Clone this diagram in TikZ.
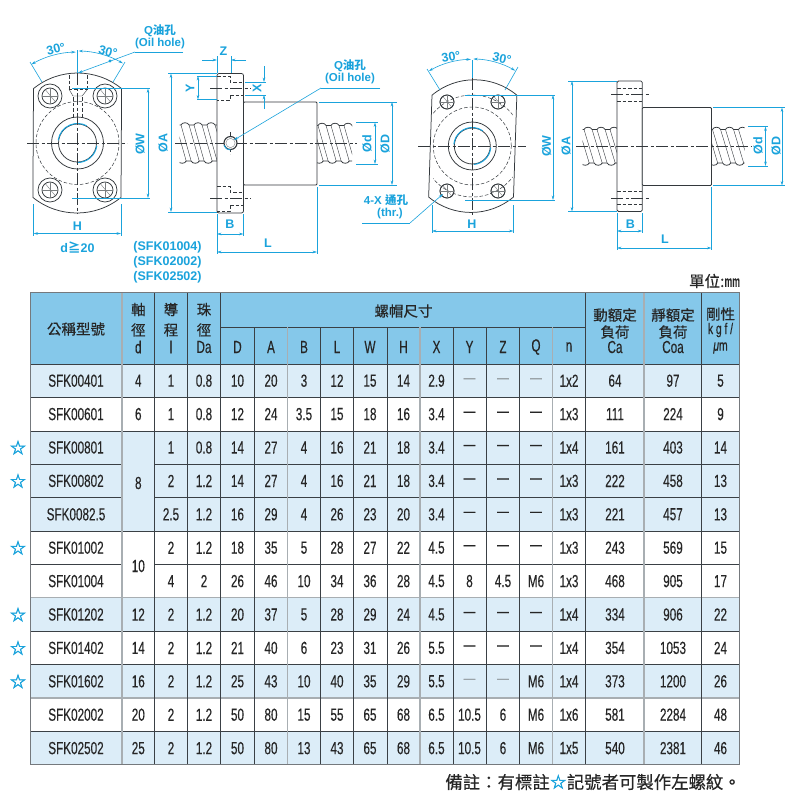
\documentclass[tikz,border=0pt]{standalone}
\usepackage{fontspec}
\usetikzlibrary{arrows.meta,calc}
\setmainfont{Liberation Sans}
\newfontfamily\cjk{Noto Sans CJK TC}
\newfontfamily\cjkm[FakeBold=0.35]{Noto Sans CJK TC}
\newfontfamily\tblf[FakeStretch=0.67,FakeBold=0.25]{Liberation Sans}
\newfontfamily\tblw[FakeStretch=0.67,FakeBold=0.25,LetterSpace=18]{Liberation Sans}
\newfontfamily\starf[FakeBold=2.5]{DejaVu Sans}
\newcommand\tfs{\fontsize{17.5}{19}\selectfont\tblf}
\newcommand\gdash{\textcolor{dashgray}{—}}
\definecolor{dimblue}{HTML}{1AA3DC}
\definecolor{headblue}{HTML}{85C8EA}
\definecolor{rowblue}{HTML}{DCEDF8}
\definecolor{gridgray}{HTML}{A8AEB2}
\definecolor{griddark}{HTML}{3A4045}
\definecolor{dashgray}{HTML}{9AA3A8}
\definecolor{ink}{HTML}{33383C}
\tikzset{
  outl/.style={draw=ink,line width=0.75pt},
  thinl/.style={draw=ink!65,line width=0.4pt},
  hid/.style={draw=ink,line width=0.5pt,dash pattern=on 3.5pt off 2pt},
  ctr/.style={draw=ink,line width=0.5pt,dash pattern=on 12pt off 2.5pt on 3pt off 2.5pt},
  dimn/.style={draw=dimblue,line width=0.6pt},
  dimar/.style={dimn,{Stealth[length=4.5pt,width=2.6pt]}-{Stealth[length=4.5pt,width=2.6pt]}},
  ldr/.style={dimn,-{Stealth[length=4.5pt,width=2.6pt]}},
  lab/.style={inner sep=0pt,text=dimblue,font=\fontsize{12.5}{14}\selectfont\bfseries},
  labc/.style={inner sep=0pt,text=dimblue,align=center,font=\fontsize{11.5}{13}\selectfont\bfseries},
  cell/.style={inner sep=0pt,text=black!85,font=\tfs},
  hcjk/.style={inner sep=0pt,text=black!85,font=\fontsize{14.5}{14.5}\selectfont\cjkm},
  gmaj/.style={draw=gridgray,line width=1.3pt},
  gmin/.style={draw=griddark,line width=0.6pt},
  starn/.style={inner sep=0pt,text=dimblue,font=\fontsize{19}{19}\selectfont\starf},
}
% bolt hole of the front views
\newcommand\fhole[4]{%
  \draw[outl] (#1,#2) circle[radius=#3pt];
  \draw[outl] (#1,#2) circle[radius=#4pt];
  \draw[thinl] ($(#1,#2)+(-#4,0)$) -- ($(#1,#2)+(#4,0)$);
  \draw[thinl] ($(#1,#2)+(0,-#4)$) -- ($(#1,#2)+(0,#4)$);
  \draw[thinl] ($(#1,#2)+(-0.55*#4,-0.75*#4)$) -- ($(#1,#2)+(0.65*#4,0.7*#4)$);
}
% screw: x0,x1,ytop,ybot,pitch
\newcommand\screw[5]{%
  \begin{scope}
    \clip (#1-0.5,#3-1) rectangle (#2+0.5,#4+1);
    \foreach \i in {-1,...,5}{
      \pgfmathsetmacro\xa{#1+\i*#5+1}
      \pgfmathsetmacro\xb{\xa+0.62*#5}
      \pgfmathsetmacro\xc{\xa+0.78*#5}
      \pgfmathsetmacro\xd{\xb+0.78*#5}
      \pgfmathsetmacro\yt{#3+3}
      \pgfmathsetmacro\yb{#4-3}
      \draw[outl] (\xa,\yt) .. controls (\xa+1,#3) and (\xb-1,#3) .. (\xb,\yt) -- (\xa+#5,\yt);
      \draw[outl] (\xc,\yb) .. controls (\xc+1,#4) and (\xd-1,#4) .. (\xd,\yb) -- (\xc+#5,\yb);
      \draw[thinl,draw=ink] (\xa,\yt) -- (\xc,\yb);
      \draw[thinl,draw=ink] (\xb,\yt) -- (\xd,\yb);
    }
  \end{scope}
}
% table row
\newcommand\tabrow[2]{%
  \foreach \t [count=\c] in {#2}{
    \ifx\t\empty\else
      \pgfmathsetmacro\xx{\colx[\c-1]}
      \pgfmathsetmacro\yy{364+33.4*(#1-0.5)}
      \node[cell] (c#1-\c) at (\xx,\yy) {\t};
    \fi
  }
}
\def\colx{{76,138.3,171,204,237.5,271,304,337,370,403.5,436.5,469.5,503,536,569,615,673,720.5}}
\begin{document}
\begin{tikzpicture}[x=1pt,y=-1pt]
\useasboundingbox (0,0) rectangle (800,807);
\fill[white] (0,0) rectangle (800,807);

%% ---------- LEFT FRONT VIEW
\draw[outl] (33.5,88.6) arc[start angle=129,end angle=51,radius=70pt]
  -- (121,197.4) arc[start angle=-51,end angle=-129,radius=70pt] -- cycle;
\draw[hid] (77.5,143) circle[radius=41.5pt];
\fhole{50}{96}{12}{8}\fhole{105}{96}{12}{8}\fhole{50}{190}{12}{8}\fhole{105}{190}{12}{8}
\draw[outl] (77.5,143) circle[radius=26pt];
\draw[outl] (77.5,143) circle[radius=19pt];
\draw[dimblue,line width=1pt] (77.5,143) ++(172:19.5pt) arc[start angle=172,end angle=62,radius=19.5pt];
\draw[dimblue,line width=1pt] (77.5,143) ++(-8:19.5pt) arc[start angle=-8,end angle=-92,radius=19.5pt];
\draw[hid] (69.5,75)--(69.5,90) (87,75)--(87,90);
\draw[hid] (68.5,89.5)--(88,89.5);
\draw[thinl,draw=ink] (69.5,90)--(73,96)--(82,96)--(87,90);
\draw[hid] (73,97)--(73,119) (82,97)--(82,119);
\draw[hid] (72,198)--(92,198);
\draw[ctr] (27,143)--(127,143);
\draw[ctr] (77.5,73)--(77.5,214);
%% dimensions
\draw[dimn] (77.5,50)--(77.5,73);
\draw[dimn] (30,62)--(42,82) (125,62)--(113,82);
\draw[dimar] (31.4,64.4) arc[start angle=120,end angle=91,radius=92pt];
\draw[dimar] (78.5,51) arc[start angle=89,end angle=60,radius=92pt];
\node[lab,rotate=15] (a30a) at (56,49) {30°};
\node[lab,rotate=-15] (a30b) at (108,51.5) {30°};
\draw[dimn] (72,88.5)--(150,88.5) (72,198)--(150,198);
\draw[dimar] (148,88.5)--(148,198);
\node[lab,rotate=90] (lw1) at (140,144) {ØW};
\draw[dimn] (33.5,204)--(33.5,236) (121,204)--(121,236);
\draw[dimar] (33.5,233.5)--(121,233.5);
\node[lab] (lh1) at (77.5,226) {H};
\node[lab] (ld20) at (77.5,247) {d{\cjk\bfseries ≧}20};
\node[labc] (lq1a) at (160,31) {Q{\cjk 油孔}};
\node[labc] (lq1b) at (160,43.5) {(Oil hole)};
\coordinate (q1e) at (183,52);\coordinate (q1k) at (135,52);\coordinate (q1t) at (78,73);
\draw[dimn] (q1e)--(q1k);
\draw[ldr] (q1k)--(q1t);
\fill[dimblue] (110,61) circle[radius=1.7pt];
\node[lab] (ls1) at (167.5,247) {(SFK01004)};
\node[lab] (ls2) at (167.5,262) {(SFK02002)};
\node[lab] (ls3) at (167.5,277) {(SFK02502)};

%% ---------- LEFT SIDE VIEW
\screw{180}{217}{122}{164}{13}
\screw{317}{351.5}{122.5}{164}{13}
\draw[outl,rounded corners=2pt,fill=white] (217,73.5) rectangle (243.5,213);
\draw[outl,rounded corners=1pt,fill=white] (243.5,102) rectangle (317,185);
\draw[hid] (217,76)--(230,76)--(230,82)--(243.5,82) (230,95)--(243.5,95) (230,95)--(230,100)--(217,100);
\draw[hid] (217,186)--(230,186)--(230,192)--(243.5,192) (230,205)--(243.5,205) (230,205)--(230,211)--(217,211);
\draw[ctr] (210,88)--(251,88);
\draw[ctr] (210,198)--(251,198);
\draw[ctr] (175,143)--(357,143);
\draw[hid] (230,132)--(230,154);
\draw[outl,line width=1.1pt,fill=white] (230.5,143) circle[radius=6.5pt];
\draw[thinl] (230.5,143) circle[radius=4.6pt];
\draw[dimblue,line width=0.9pt] (230.5,143) ++(200:7pt) arc[start angle=200,end angle=270,radius=7pt];
\node[labc] (lq2a) at (350,66) {Q{\cjk 油孔}};
\node[labc] (lq2b) at (350,78.5) {(Oil hole)};
\coordinate (q2e) at (380,88);\coordinate (q2k) at (321,88);\coordinate (q2t) at (234,140);
\draw[dimn] (q2e)--(q2k);
\draw[ldr] (q2k)--(q2t);
%% dims
\draw[dimn] (168,73.5)--(217,73.5) (168,212)--(217,212);
\draw[dimar] (171,73.5)--(171,212);
\node[lab,rotate=90] (la1) at (163,143) {ØA};
\draw[dimn] (217,56)--(217,73) (231,56)--(231,73);
\draw[ldr] (202,60)--(217,60);
\draw[ldr] (246,60)--(231,60);
\node[lab] (lz) at (223.5,51) {Z};
\draw[dimn] (197,76)--(217,76) (197,99.5)--(217,99.5);
\draw[dimar] (198,76)--(198,99.5);
\node[lab,rotate=90] (ly) at (190,88) {Y};
\draw[dimn] (245,82)--(266,82) (245,95)--(266,95);
\draw[ldr] (264,66)--(264,82);
\draw[ldr] (264,109)--(264,95);
\node[lab,rotate=90] (lx) at (257,88) {X};
\draw[dimn] (356,122.5)--(378,122.5) (356,164)--(378,164);
\draw[dimar] (375,122.5)--(375,164);
\node[lab,rotate=90] (ld1) at (367,144) {Ød};
\draw[dimn] (319,102)--(397,102) (319,185)--(397,185);
\draw[dimar] (392,102)--(392,185);
\node[lab,rotate=90] (lD1) at (385,144) {ØD};
\draw[dimn] (217,214)--(217,254) (243.5,214)--(243.5,236) (317,187)--(317,254);
\draw[dimar] (217,234)--(243.5,234);
\node[lab] (lb1) at (230,224) {B};
\draw[dimar] (217,252)--(317,252);
\node[lab] (ll1) at (268,243) {L};

%% ---------- RIGHT FRONT VIEW
\draw[outl] (432,95.2) arc[start angle=130,end angle=50,radius=66pt]
  -- (513.5,197) arc[start angle=-50,end angle=-130,radius=66pt] -- cycle;
\draw[hid] (472.3,146) circle[radius=39pt];
\begin{scope}
  \clip (433,80) rectangle (512.5,212);
  \draw[hid] (472.3,146) circle[radius=51pt];
\end{scope}
\fhole{447}{102}{7}{7}\fhole{498}{102}{7}{7}\fhole{447}{191}{7}{7}\fhole{498}{191}{7}{7}
\draw[outl] (472.3,146) circle[radius=24pt];
\draw[outl] (472.3,146) circle[radius=18pt];
\draw[dimblue,line width=1pt] (472.3,146) ++(175:18.5pt) arc[start angle=175,end angle=55,radius=18.5pt];
\draw[dimblue,line width=1pt] (472.3,146) ++(-5:18.5pt) arc[start angle=-5,end angle=-85,radius=18.5pt];
\draw[ctr] (418,146)--(526,146);
\draw[ctr] (472.3,78)--(472.3,215);
\draw[dimn] (472.3,60)--(472.3,78);
\draw[dimn] (427,69)--(440,90) (518,67)--(505,90);
\draw[dimar] (429,71) arc[start angle=120,end angle=91,radius=87pt];
\draw[dimar] (473.3,59) arc[start angle=89,end angle=60,radius=87pt];
\node[lab,rotate=10] (a30c) at (451,57) {30°};
\node[lab,rotate=-12] (a30d) at (502,58.5) {30°};
\draw[dimn] (465,95)--(555,95) (465,200)--(555,200);
\draw[dimar] (553,95)--(553,200);
\node[lab,rotate=90] (lw2) at (546.5,146) {ØW};
\draw[dimn] (432,205)--(432,233) (513.5,205)--(513.5,233);
\draw[dimar] (432,231)--(513.5,231);
\node[lab] (lh2) at (472,224) {H};
\node[labc] (l4xa) at (386,200) {4-X {\cjk 通孔}};
\node[labc] (l4xb) at (390,214) {(thr.)};
\coordinate (xe) at (362,223);\coordinate (xk) at (410,223);\coordinate (xt) at (443,194);
\draw[dimn] (xe)--(xk);
\draw[ldr] (xk)--(xt);

%% ---------- RIGHT SIDE VIEW
\screw{583}{617}{126.5}{166}{13}
\screw{711.5}{744}{126.5}{166}{13}
\draw[outl,rounded corners=1.5pt,fill=white] (617,81) rectangle (642.3,211.5);
\draw[outl,rounded corners=1pt,fill=white] (642.3,107.5) rectangle (711.5,185.5);
\draw[hid] (617,88.5)--(642.3,88.5) (617,101)--(642.3,101);
\draw[hid] (617,191)--(642.3,191) (617,204)--(642.3,204);
\draw[ctr] (611,94.5)--(649,94.5);
\draw[ctr] (611,198)--(649,198);
\draw[ctr] (576,146)--(752,146);
\draw[dimn] (568,81)--(617,81) (568,211.5)--(617,211.5);
\draw[dimar] (572,81)--(572,211.5);
\node[lab,rotate=90] (la2) at (566,146) {ØA};
\draw[dimn] (713,107.5)--(785,107.5) (713,185.5)--(785,185.5);
\draw[dimar] (782,107.5)--(782,185.5);
\node[lab,rotate=90] (lD2) at (776,146) {ØD};
\draw[dimn] (748,126.5)--(768,126.5) (748,166)--(768,166);
\draw[dimar] (765.5,126.5)--(765.5,166);
\node[lab,rotate=90] (ld2) at (758,146) {Ød};
\draw[dimn] (617,213)--(617,250) (642.3,213)--(642.3,233) (711.5,187)--(711.5,250);
\draw[dimar] (617,231)--(642.3,231);
\node[lab] (lb2) at (630.5,224) {B};
\draw[dimar] (617,248)--(711.5,248);
\node[lab] (ll2) at (665,239) {L};

\node[inner sep=0pt,text=black!85,font=\fontsize{15.5}{15.5}\selectfont\cjkm] (unit) at (714.5,281) {單位:㎜};

%% ---------- TABLE
\fill[headblue] (30,292) rectangle (739.5,364);
\fill[rowblue] (30,364) rectangle (739.5,397.4);
\fill[rowblue] (30,430.8) rectangle (739.5,531);
\fill[rowblue] (30,597.8) rectangle (739.5,631.2);
\fill[rowblue] (30,664.6) rectangle (739.5,698);
\fill[rowblue] (30,731.4) rectangle (739.5,764.8);
% horizontal rules
\draw[gmin] (220.5,327)--(585.5,327);
\draw[gmin] (30,364)--(739.5,364) (30,397.4)--(739.5,397.4) (30,430.8)--(739.5,430.8);
\draw[gmin] (30,464.2)--(122,464.2) (154.5,464.2)--(739.5,464.2);
\draw[gmin] (30,497.6)--(122,497.6) (154.5,497.6)--(739.5,497.6);
\draw[gmin] (30,531)--(739.5,531);
\draw[gmin] (30,564.4)--(122,564.4) (154.5,564.4)--(739.5,564.4);
\draw[gmin] (30,631.2)--(739.5,631.2) (30,664.6)--(739.5,664.6) (30,731.4)--(739.5,731.4);
\draw[gmaj] (30,597.8)--(739.5,597.8);
\draw[gmaj] (30,698)--(739.5,698);
% vertical rules
\foreach \vx in {154.5,187.5,220.5,585.5,701.5}{\draw[gmin] (\vx,292)--(\vx,764.8);}
\foreach \vx in {254.5,320.5,353.5,387,453,486.5,519.5}{\draw[gmin] (\vx,327)--(\vx,764.8);}
\draw[gmaj] (122,292)--(122,764.8);
\draw[gmaj] (287.5,327)--(287.5,764.8);
\draw[gmaj] (420,327)--(420,764.8);
\draw[gmaj] (552.5,327)--(552.5,764.8);
\draw[gmaj] (644,292)--(644,764.8);
\draw[draw=griddark!70,line width=0.9pt] (30,292) rectangle (739.5,764.8);
% header
\node[hcjk] (hname) at (76,329) {公稱型號};
\node[hcjk] (hnut) at (403.5,311) {螺帽尺寸};
\node[hcjk] (h1a) at (138.3,309.5) {軸};\node[hcjk] (h1b) at (138.3,330) {徑};\node[cell] (h1c) at (138.3,347) {d};
\node[hcjk] (h2a) at (171,309.5) {導};\node[hcjk] (h2b) at (171,330) {程};\node[cell] (h2c) at (171,347) {l};
\node[hcjk] (h3a) at (204,309.5) {珠};\node[hcjk] (h3b) at (204,330) {徑};\node[cell] (h3c) at (204,347) {Da};
\foreach \hx/\hl in {237.5/D,271/A,304/B,337/L,370/W,403.5/H,436.5/X,469.5/Y,503/Z,536/Q,569/n}{
  \node[cell] (col\hl) at (\hx,347) {\hl};
}
\node[hcjk] (hca1) at (615,315) {動額定};\node[hcjk] (hca2) at (615,332) {負荷};\node[cell] (hca3) at (615,347) {Ca};
\node[hcjk] (hco1) at (673,315) {靜額定};\node[hcjk] (hco2) at (673,332) {負荷};\node[cell] (hco3) at (673,347) {Coa};
\node[hcjk] (hk1) at (720.5,314) {剛性};
\node[cell,font=\fontsize{15.5}{16}\selectfont\tblw] (hk2) at (720.5,330) {kgf/};
\node[cell,font=\fontsize{15.5}{16}\selectfont\tblw] (hk3) at (720.5,348) {{\itshape μ}m};
% rows
\tabrow{1}{SFK00401,4,1,0.8,10,20,3,12,15,14,2.9,\gdash,\gdash,\gdash,1x2,64,97,5}
\tabrow{2}{SFK00601,6,1,0.8,12,24,3.5,15,18,16,3.4,—,—,—,1x3,111,224,9}
\tabrow{3}{SFK00801,,1,0.8,14,27,4,16,21,18,3.4,—,—,—,1x4,161,403,14}
\tabrow{4}{SFK00802,,2,1.2,14,27,4,16,21,18,3.4,—,—,—,1x3,222,458,13}
\tabrow{5}{SFK0082.5,,2.5,1.2,16,29,4,26,23,20,3.4,—,—,—,1x3,221,457,13}
\tabrow{6}{SFK01002,,2,1.2,18,35,5,28,27,22,4.5,—,—,—,1x3,243,569,15}
\tabrow{7}{SFK01004,,4,2,26,46,10,34,36,28,4.5,8,4.5,M6,1x3,468,905,17}
\tabrow{8}{SFK01202,12,2,1.2,20,37,5,28,29,24,4.5,—,—,—,1x4,334,906,22}
\tabrow{9}{SFK01402,14,2,1.2,21,40,6,23,31,26,5.5,—,—,—,1x4,354,1053,24}
\tabrow{10}{SFK01602,16,2,1.2,25,43,10,40,35,29,5.5,\gdash,\gdash,M6,1x4,373,1200,26}
\tabrow{11}{SFK02002,20,2,1.2,50,80,15,55,65,68,6.5,10.5,6,M6,1x6,581,2284,48}
\tabrow{12}{SFK02502,25,2,1.2,50,80,13,43,65,68,6.5,10.5,6,M6,1x5,540,2381,46}
\node[cell] (d8) at (138.3,483) {8};
\node[cell] (d10) at (138.3,566) {10};
% stars
\foreach \sr in {3,4,6,8,9,10}{
  \pgfmathsetmacro\sy{364+33.4*(\sr-0.5)}
  \node[starn] (star\sr) at (18,\sy) {☆};
}
\node[inner sep=0pt,text=black!85,anchor=east,font=\fontsize{17.4}{18}\selectfont\cjkm] (note) at (741,782) {備註：有標註{\starf\fontsize{19}{19}\selectfont\textcolor{dimblue}{☆}}記號者可製作左螺紋。};
\end{tikzpicture}
\end{document}
